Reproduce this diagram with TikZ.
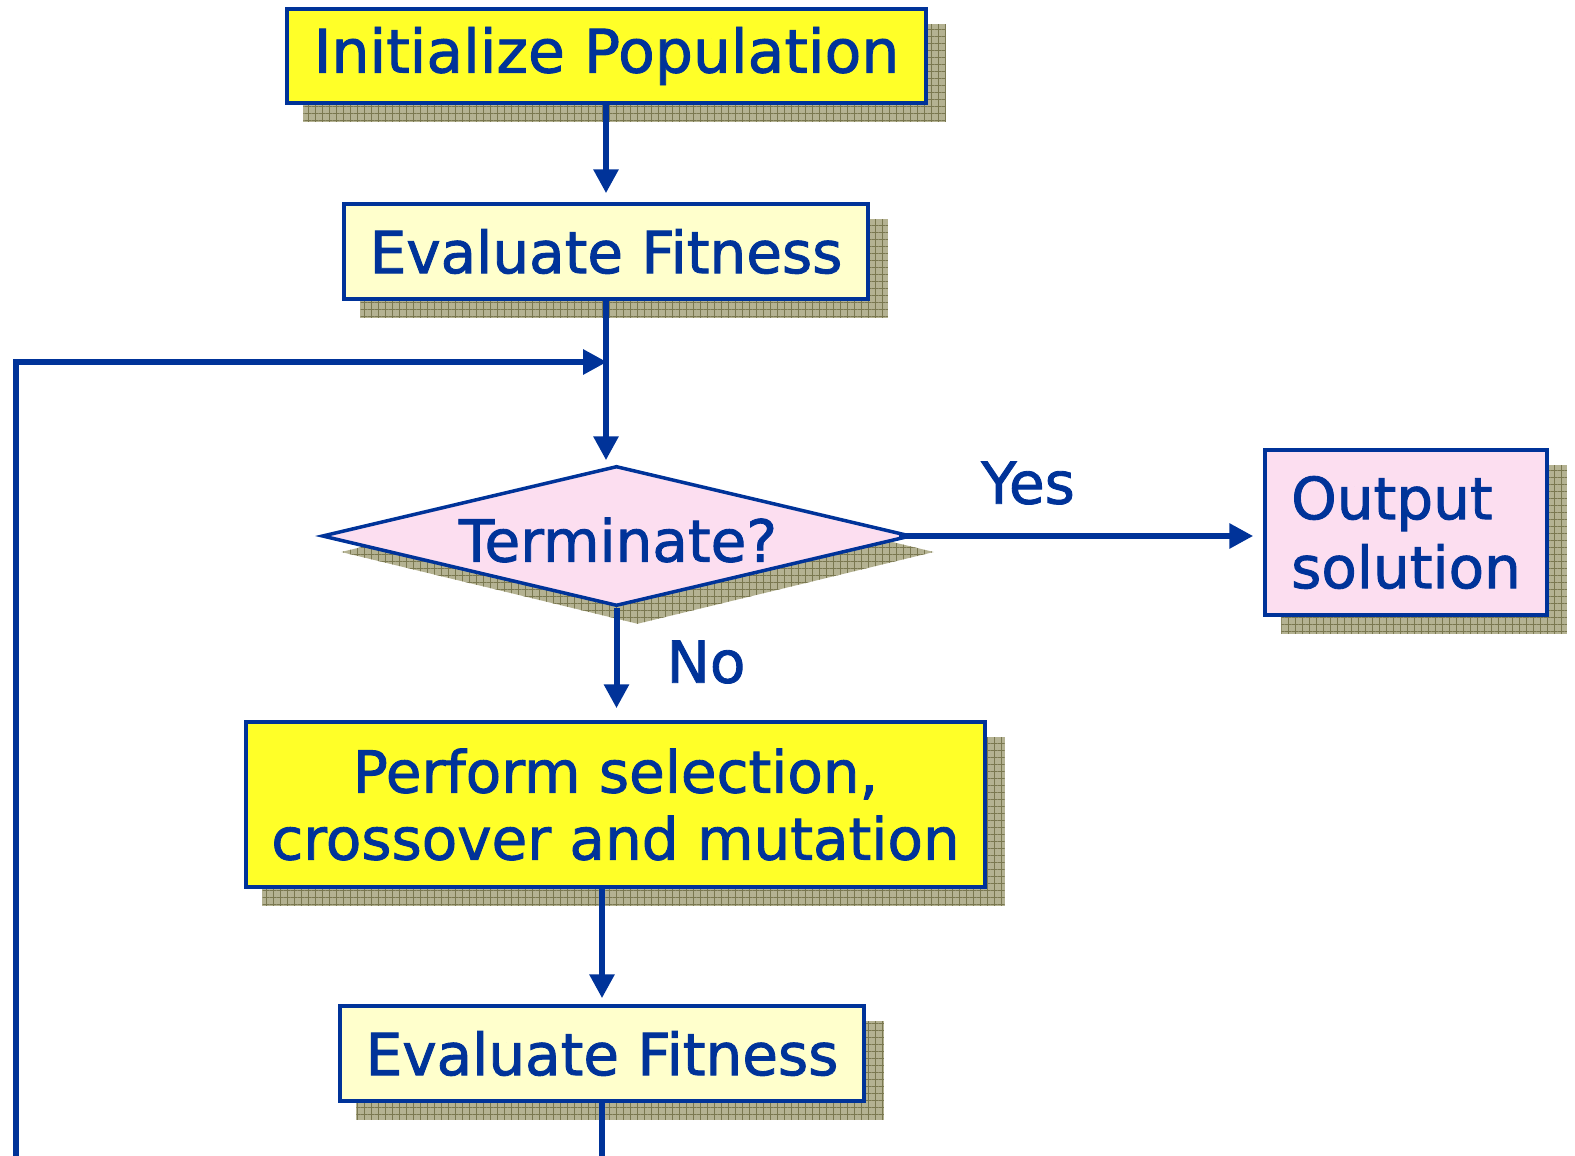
\documentclass[tikz,border=0pt]{standalone}
\usepackage{fontspec}
\setmainfont{DejaVu Sans}[FakeBold=1.5]
\usepackage{xcolor}
\usepackage{tikz}
\usetikzlibrary{shapes.geometric,arrows.meta,calc,backgrounds,patterns.meta}

\definecolor{gablue}{RGB}{0,51,153}
\definecolor{gayellow}{RGB}{255,255,40}
\definecolor{gacream}{RGB}{255,255,204}
\definecolor{gapink}{RGB}{252,222,240}
\definecolor{gashade}{RGB}{180,178,146}
\definecolor{gagrid}{RGB}{122,120,80}

\begin{document}
\begin{tikzpicture}[x=1pt,y=-1pt,
	box/.style={rectangle,draw=gablue,line width=3.5pt,inner sep=0pt,text=gablue,font=\fontsize{58}{67}\selectfont},
	decision/.style={diamond,draw=gablue,line width=3.5pt,fill=gapink,inner sep=0pt},
	txt/.style={text=gablue,inner sep=0pt,font=\fontsize{58}{69}\selectfont},
	flow/.style={color=gablue,line width=6pt},
	tip/.style={-{Triangle[length=24pt,width=24pt]}},
	shade/.style={fill=gashade,
		postaction={pattern={Lines[angle=0,distance=7pt,line width=0.9pt]},pattern color=gagrid},
		postaction={pattern={Lines[angle=90,distance=7pt,line width=0.9pt]},pattern color=gagrid}}]

	\useasboundingbox (0,0) rectangle (1575,1156);

	% The chart
	\node [box,fill=gayellow,minimum width=639pt,minimum height=94pt,font=\fontsize{60}{67}\selectfont] at (606.5,56) (init) {Initialize Population};
	\node [box,fill=gacream,minimum width=524pt,minimum height=95pt] at (606,251.5) (eval1) {Evaluate Fitness};
	\node [decision,minimum width=589pt,minimum height=140pt] at (616.5,536) (term) {};
	\node [txt] at (618,540) (termtxt) {Terminate?};
	\node [box,fill=gapink,minimum width=282pt,minimum height=165pt,align=left,font=\fontsize{58}{69}\selectfont] at (1406,532.5) (out) {Output\\solution};
	\node [box,fill=gayellow,minimum width=739pt,minimum height=165pt,align=center] at (615.5,804.5) (perform) {Perform selection,\\crossover and mutation};
	\node [box,fill=gacream,minimum width=524pt,minimum height=95pt] at (602,1053.5) (eval2) {Evaluate Fitness};

	\node [txt] at (1028,483) (yes) {Yes};
	\node [txt] at (706,662) (no) {No};

	\coordinate (join) at (607,362);
	\coordinate (cut) at (16,1156);

	% Shadows
	\begin{scope}[on background layer]
	\path[shade] ($(init.south west)+(18,17)$) rectangle ($(init.north east)+(18,17)$);
	\path[shade] ($(eval1.south west)+(18,17)$) rectangle ($(eval1.north east)+(18,17)$);
	\path[shade] ($(out.south west)+(18,17)$) rectangle ($(out.north east)+(18,17)$);
	\path[shade] ($(perform.south west)+(18,17)$) rectangle ($(perform.north east)+(18,17)$);
	\path[shade] ($(eval2.south west)+(18,17)$) rectangle ($(eval2.north east)+(18,17)$);
	\path[shade] ($(term.west)+(21,16)$) -- ($(term.north)+(21,16)$) -- ($(term.east)+(21,16)$) -- ($(term.south)+(21,16)$) -- cycle;
	\end{scope}

	% Chart edges
	\path[flow,tip]
	(eval1.north |- init.south) edge[shorten >=9pt] (eval1.north)
	(eval1.south) edge[shorten >=4pt] (eval1.south |- term.north)
	([xshift=-14pt]term.east) edge[shorten >=10pt] (out.west |- term.east)
	(term.south) edge[shorten >=12pt] (term.south |- perform.north)
	(eval2.north |- perform.south) edge[shorten >=6pt] (eval2.north);

	\draw[flow] (eval2.south) -- (eval2.south |- cut);
	\draw[flow,tip] (cut) |- (join);

\end{tikzpicture}
\end{document}
